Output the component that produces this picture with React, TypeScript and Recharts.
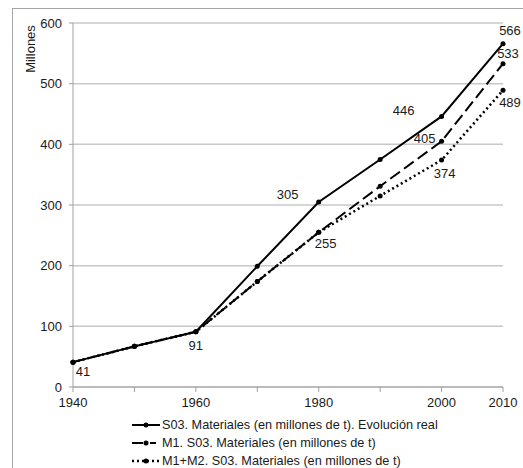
import React from 'react';
import { LineChart, Line, XAxis, YAxis, CartesianGrid, Legend, LabelList } from 'recharts';

const years = ['1940', '1950', '1960', '1970', '1980', '1990', '2000', '2010'];
const shownYearLabels = ['1940', '1960', '1980', '2000', '2010'];
const realValues = [41, 67, 91, 199, 305, 375, 446, 566];
const m1Values = [41, 67, 91, 174, 255, 331, 405, 533];
const m12Values = [41, 67, 91, 174, 255, 315, 374, 489];
const yTicks = [0, 100, 200, 300, 400, 500, 600];

const seriesNames = {
  real: 'S03. Materiales (en millones de t). Evolución real',
  m1: 'M1. S03. Materiales (en millones de t)',
  m12: 'M1+M2. S03. Materiales (en millones de t)',
};

const data = years.map((y, i) => ({ year: y, real: realValues[i], m1: m1Values[i], m12: m12Values[i] }));

// label placement offsets (style), keyed by year
const labelOffsets: Record<string, Record<string, [number, number]>> = {
  real: { '1940': [10, 9], '1960': [0, 14], '1980': [-31, -8], '2000': [-38, -6], '2010': [7, -13] },
  m1: { '2000': [-17, -3], '2010': [5, -10] },
  m12: { '1980': [7, 11], '2000': [3, 13], '2010': [7, 12] },
};

const FONT = '"Liberation Sans", Arial, sans-serif';

const makeLabel = (key: string) => (props: any) => {
  const { x, y, value, index } = props;
  const yr = years[index];
  const off = labelOffsets[key][yr];
  if (!off) return null;
  return (
    <text x={x + off[0]} y={y + off[1]} dy="0.35em" textAnchor="middle" fontSize={13} fontFamily={FONT} fill="#1a1a1a">
      {value}
    </text>
  );
};

const styles: Record<string, { dash?: string; width: number }> = {
  real: { width: 2 },
  m1: { dash: '12 5', width: 2 },
  m12: { dash: '2 3', width: 2.5 },
};

const legendDash: Record<string, string | undefined> = {
  real: undefined,
  m1: '11 7 6 10',
  m12: '2 3',
};

const renderLegend = () => (
  <div style={{ fontFamily: FONT, fontSize: 12.7, color: '#1a1a1a' }}>
    {(['real', 'm1', 'm12'] as const).map((k) => (
      <div key={k} style={{ display: 'flex', alignItems: 'center', height: 18 }}>
        <svg width={30} height={10}>
          <line x1={0} y1={5} x2={28} y2={5} stroke="#000" strokeWidth={styles[k].width} strokeDasharray={legendDash[k]} />
          <circle cx={14} cy={5} r={2.5} fill="#000" />
        </svg>
        <span>{seriesNames[k]}</span>
      </div>
    ))}
  </div>
);

export default function App() {
  return (
    <div style={{ position: 'absolute', left: 0, top: 0, width: 523, height: 468, overflow: 'hidden', background: '#fff' }}>
      <div style={{ position: 'absolute', left: 12, top: 8, width: 600, height: 600, borderLeft: '1px solid #a6a6a6', borderTop: '1px solid #a6a6a6' }} />
      <div style={{ position: 'absolute', left: 0, top: 0 }}>
        <LineChart width={523} height={468} data={data} margin={{ top: 23, right: 20, left: 0, bottom: 3 }}>
          <CartesianGrid vertical={false} stroke="#c8c8c8" strokeWidth={1.5} />
          <XAxis
            dataKey="year"
            interval={0}
            tickFormatter={(v: string) => (shownYearLabels.includes(v) ? v : '')}
            stroke="#a0a0a0"
            tickSize={5}
            tickMargin={6}
            tick={{ fill: '#1a1a1a', fontSize: 13, fontFamily: FONT }}
            height={24}
            padding={{ left: 0, right: 0 }}
          />
          <YAxis
            domain={[0, 600]}
            ticks={yTicks}
            width={73}
            stroke="#a0a0a0"
            tickSize={4}
            tickMargin={7}
            tick={{ fill: '#1a1a1a', fontSize: 13, fontFamily: FONT }}
            label={(p: any) => (
              <text transform="translate(30,49) rotate(-90)" textAnchor="middle" dy="0.35em" fontSize={13} fontFamily={FONT} fill="#1a1a1a">
                Millones
              </text>
            )}
          />
          <Legend verticalAlign="bottom" content={renderLegend} wrapperStyle={{ left: 132, top: 416, width: 400 }} />
          <Line dataKey="m12" name={seriesNames.m12} stroke="#000" strokeWidth={styles.m12.width} strokeDasharray={styles.m12.dash} dot={{ r: 2.5, fill: '#000', stroke: '#000', strokeWidth: 0 }} isAnimationActive={false}>
            <LabelList dataKey="m12" content={makeLabel('m12')} />
          </Line>
          <Line dataKey="m1" name={seriesNames.m1} stroke="#000" strokeWidth={styles.m1.width} strokeDasharray={styles.m1.dash} dot={{ r: 2.5, fill: '#000', stroke: '#000', strokeWidth: 0 }} isAnimationActive={false}>
            <LabelList dataKey="m1" content={makeLabel('m1')} />
          </Line>
          <Line dataKey="real" name={seriesNames.real} stroke="#000" strokeWidth={styles.real.width} dot={{ r: 2.5, fill: '#000', stroke: '#000', strokeWidth: 0 }} isAnimationActive={false}>
            <LabelList dataKey="real" content={makeLabel('real')} />
          </Line>
        </LineChart>
      </div>
    </div>
  );
}
